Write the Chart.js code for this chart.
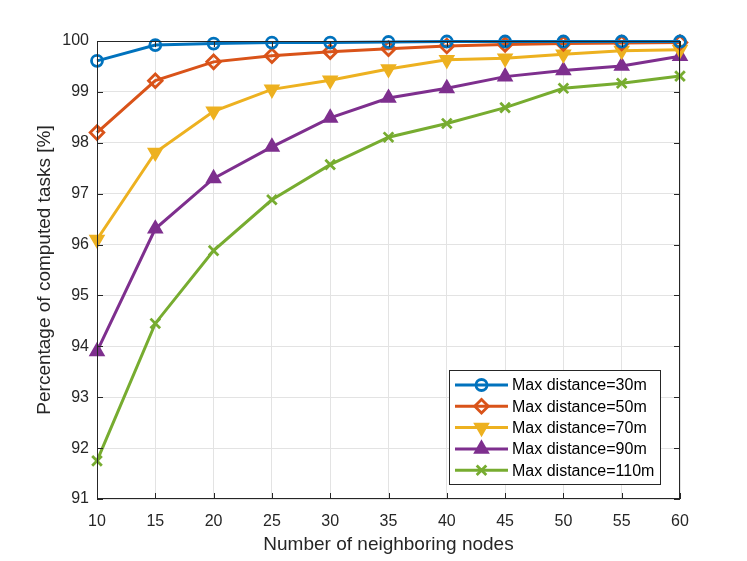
<!DOCTYPE html>
<html>
<head>
<meta charset="utf-8">
<script src="https://cdn.jsdelivr.net/npm/chart.js@4.4.1/dist/chart.umd.min.js"></script>
<style>
  html, body { margin: 0; padding: 0; background: #fff; }
  #wrap { width: 747px; height: 561px; }
</style>
</head>
<body>
<div id="wrap"><canvas id="lineChart"></canvas></div>
<script>
const neighborLabels = [10, 15, 20, 25, 30, 35, 40, 45, 50, 55, 60];
const dist30 = [99.61, 99.92, 99.95, 99.97, 99.97, 99.98, 99.99, 99.99, 99.99, 99.99, 99.99];
const dist50 = [98.20, 99.22, 99.59, 99.71, 99.79, 99.85, 99.90, 99.93, 99.95, 99.96, 99.97];
const dist70 = [96.10, 97.81, 98.62, 99.05, 99.23, 99.45, 99.63, 99.66, 99.74, 99.81, 99.83];
const dist90 = [93.90, 96.31, 97.30, 97.92, 98.49, 98.88, 99.07, 99.30, 99.42, 99.51, 99.70];
const dist110 = [91.75, 94.45, 95.88, 96.88, 97.57, 98.11, 98.38, 98.69, 99.07, 99.17, 99.31];
const yTicks = [91, 92, 93, 94, 95, 96, 97, 98, 99, 100];

const FONT = '"Liberation Sans", Arial, Helvetica, sans-serif';
const AXIS_COLOR = '#262626';

function series(label, data, color, style, rotation, fill) {
  return {
    label: label,
    data: data,
    borderColor: color,
    backgroundColor: color,
    borderWidth: 3,
    pointStyle: style,
    pointRotation: rotation,
    pointRadius: style === 'circle' ? 5.5 : 6.8,
    pointBorderWidth: 2.8,
    pointBackgroundColor: fill ? color : 'rgba(0,0,0,0)',
    pointBorderColor: color,
    clip: false,
    tension: 0
  };
}

// box, inward ticks and the legend, matlab style
const matlabFrame = {
  id: 'matlabFrame',
  afterDatasetsDraw(chart) {
    const ctx = chart.ctx;
    const a = chart.chartArea;
    const xs = chart.scales.x, ys = chart.scales.y;
    ctx.save();
    ctx.strokeStyle = AXIS_COLOR;
    ctx.lineWidth = 1;
    ctx.strokeRect(a.left + 0.5, a.top + 0.5, a.right - a.left - 1, a.bottom - a.top - 1);
    ctx.beginPath();
    neighborLabels.forEach((_, i) => {
      const px = Math.round(xs.getPixelForValue(i)) + 0.5;
      ctx.moveTo(px, a.bottom); ctx.lineTo(px, a.bottom - 6);
      ctx.moveTo(px, a.top); ctx.lineTo(px, a.top + 6);
    });
    yTicks.forEach(v => {
      const py = Math.round(ys.getPixelForValue(v)) + 0.5;
      ctx.moveTo(a.left, py); ctx.lineTo(a.left + 6, py);
      ctx.moveTo(a.right, py); ctx.lineTo(a.right - 6, py);
    });
    ctx.stroke();

    // legend
    const bw = 211, bh = 114;
    const bx = a.right - 20 - bw, by = a.bottom - 15 - bh;
    ctx.fillStyle = '#fff';
    ctx.fillRect(bx, by, bw, bh);
    ctx.strokeStyle = AXIS_COLOR;
    ctx.strokeRect(bx + 0.5, by + 0.5, bw, bh);
    ctx.font = '16px ' + FONT;
    ctx.textBaseline = 'middle';
    ctx.textAlign = 'left';
    chart.data.datasets.forEach((ds, i) => {
      const cy = by + 15 + i * 21.3;
      ctx.strokeStyle = ds.borderColor;
      ctx.lineWidth = ds.borderWidth;
      ctx.beginPath();
      ctx.moveTo(bx + 6, cy); ctx.lineTo(bx + 59, cy);
      ctx.stroke();
      ctx.fillStyle = ds.pointBackgroundColor;
      ctx.lineWidth = ds.pointBorderWidth;
      Chart.helpers.drawPoint(ctx, {
        pointStyle: ds.pointStyle,
        rotation: ds.pointRotation,
        radius: ds.pointRadius,
        borderWidth: ds.pointBorderWidth
      }, bx + 32.5, cy);
      ctx.fillStyle = '#000';
      ctx.fillText(ds.label, bx + 63, cy + 1);
    });
    ctx.restore();
  }
};

const line = document.getElementById('lineChart').getContext('2d');
const lineChart = new Chart(line, {
  type: 'line',
  data: {
    labels: neighborLabels,
    datasets: [
      series('Max distance=30m', dist30, '#0072BD', 'circle', 0, false),
      series('Max distance=50m', dist50, '#D95319', 'rectRot', 0, false),
      series('Max distance=70m', dist70, '#EDB120', 'triangle', 180, true),
      series('Max distance=90m', dist90, '#7E2F8E', 'triangle', 0, true),
      series('Max distance=110m', dist110, '#77AC30', 'crossRot', 0, false)
    ]
  },
  options: {
    responsive: true,
    maintainAspectRatio: false,
    animation: false,
    layout: { padding: { top: 41, right: 67, left: 0, bottom: 0 } },
    scales: {
      x: {
        type: 'category',
        offset: false,
        grid: { color: '#e3e3e3', lineWidth: 1, drawTicks: false },
        border: { display: false },
        ticks: { color: '#262626', font: { family: FONT, size: 16 }, padding: 13, maxRotation: 0, autoSkip: false },
        title: { display: true, text: 'Number of neighboring nodes', color: '#262626', font: { family: FONT, size: 19 }, padding: { top: 0, bottom: 5 } },
        afterFit(scale) { scale.height = 62; }
      },
      y: {
        min: 91,
        max: 100,
        grid: { color: '#e3e3e3', lineWidth: 1, drawTicks: false },
        border: { display: false },
        ticks: { stepSize: 1, color: '#262626', font: { family: FONT, size: 16 }, padding: 8 },
        title: { display: true, text: 'Percentage of computed tasks [%]', color: '#262626', font: { family: FONT, size: 19 }, padding: { top: 33, bottom: 0 } },
        afterFit(scale) { scale.width = 97; }
      }
    },
    plugins: {
      legend: { display: false },
      tooltip: { enabled: false }
    }
  },
  plugins: [matlabFrame]
});
</script>
</body>
</html>
